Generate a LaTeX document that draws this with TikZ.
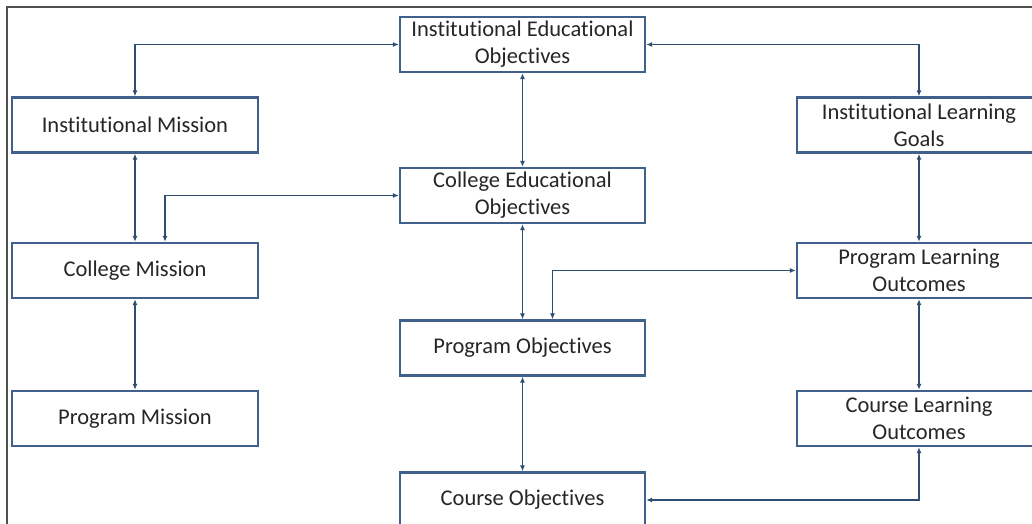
\documentclass[tikz,border=0pt]{standalone}
\usepackage{fontspec}
\setmainfont{Carlito}[Ligatures={NoCommon,NoDiscretionary,NoContextual},Contextuals=NoAlternate]
\usetikzlibrary{arrows.meta}
\definecolor{boxc}{HTML}{41618C}
\definecolor{linec}{HTML}{2F4D70}
\definecolor{txtc}{HTML}{262626}
\definecolor{framec}{HTML}{505050}
\tikzset{
  box/.style={draw=boxc, line width=2.4pt, fill=white, minimum width=245pt, minimum height=55pt,
    align=center, text=txtc, font=\fontsize{22.5pt}{27pt}\selectfont, inner sep=0pt},
  link/.style={draw=linec, line width=1.7pt, {Latex[length=6pt,width=5pt]}-{Latex[length=6pt,width=5pt]}}
}
\begin{document}
\begin{tikzpicture}[x=1pt,y=-1pt]
\useasboundingbox (0,0) rectangle (1032,524);
\clip (0,0) rectangle (1032,524);
\fill[white] (0,0) rectangle (1032,524);
\draw[framec, line width=1.8pt] (7,530) -- (7,7) -- (1040,7);
\node[box] (IEO) at (522.5,44.5) {Institutional Educational\\Objectives};
\node[box] (CEO) at (522.5,195.5) {College Educational\\Objectives};
\node[box] (PO) at (522.5,348) {Program Objectives};
\node[box] (CO) at (522.5,500) {Course Objectives};
\node[box, minimum width=246pt] (IM) at (135,125) {Institutional Mission};
\node[box, minimum width=246pt] (CM) at (135,270.5) {College Mission};
\node[box, minimum width=246pt] (PM) at (135,418.5) {Program Mission};
\node[box, minimum width=244pt] (ILG) at (919,125) {Institutional Learning\\Goals};
\node[box, minimum width=244pt] (PLO) at (919,270.5) {Program Learning\\Outcomes};
\node[box, minimum width=244pt] (CLO) at (919,418.5) {Course Learning\\Outcomes};
\draw[link] (IEO.south) -- (CEO.north);
\draw[link] (CEO.south) -- (PO.north);
\draw[link] (PO.south) -- (CO.north);
\draw[link] (IM.south) -- (CM.north);
\draw[link] (CM.south) -- (PM.north);
\draw[link] (ILG.south) -- (PLO.north);
\draw[link] (PLO.south) -- (CLO.north);
\draw[link] (IM.north) |- (IEO.west);
\draw[link] (IEO.east) -| (ILG.north);
\draw[link] ([xshift=30pt]CM.north) |- (CEO.west);
\draw[link] ([xshift=30pt]PO.north) |- (PLO.west);
\draw[link] (CLO.south) |- (CO.east);
\end{tikzpicture}
\end{document}
